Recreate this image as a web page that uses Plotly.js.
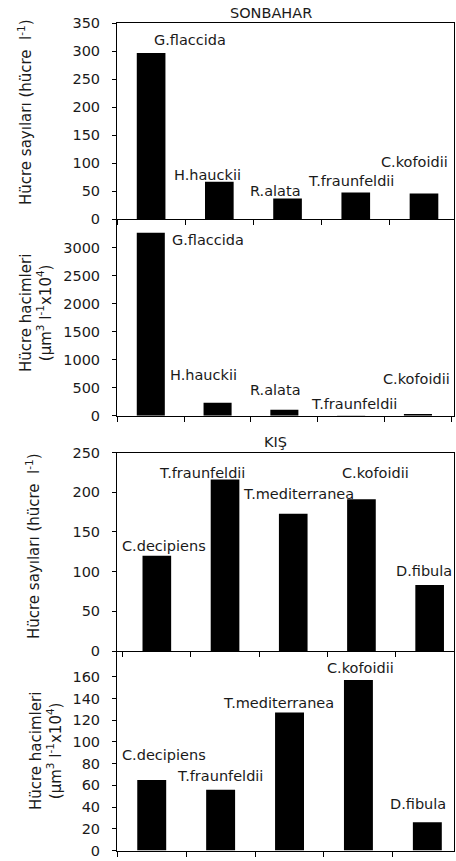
<!DOCTYPE html>
<html><head><meta charset="utf-8">
<script src="https://cdn.plot.ly/plotly-3.0.1.min.js"></script>
<style>html,body{margin:0;padding:0;background:#fff;}#chart{width:456px;height:861px;}</style>
</head><body><div id="chart"></div>
<script>
// ---- data ----
const autumnTitle = 'SONBAHAR';
const winterTitle = 'KIŞ';
const autumnSpecies = ['G.flaccida', 'H.hauckii', 'R.alata', 'T.fraunfeldii', 'C.kofoidii'];
const autumnCounts = [297, 67, 37, 48, 46];
const autumnVolumes = [3268, 232, 107, 5, 30];
const winterSpecies = ['C.decipiens', 'T.fraunfeldii', 'T.mediterranea', 'C.kofoidii', 'D.fibula'];
const winterCounts = [120, 216, 173, 191, 83];
const winterVolumes = [65, 56, 127, 157, 26];
const countTitle = 'Hücre sayıları (hücre  l<sup>-1</sup>)';
const volumeTitle = 'Hücre hacimleri<br>(µm<sup>3</sup> l<sup>-1</sup>x10<sup>4</sup>)';
const ticksP1 = [0, 50, 100, 150, 200, 250, 300, 350];
const ticksP2 = [0, 500, 1000, 1500, 2000, 2500, 3000];
const ticksP3 = [0, 50, 100, 150, 200, 250];
const ticksP4 = [0, 20, 40, 60, 80, 100, 120, 140, 160];

// ---- layout helpers (positions / styles) ----
const W = 456, H = 861;
const px = v => v / W;
const py = v => 1 - v / H;
const FONT = 'DejaVu Sans, Liberation Sans, Arial, sans-serif';
const TXT = '#1a1a1a';
const FS = 14.5;

// label offsets [xshift, yshift] in px relative to bar centre / bar top
const shiftP1 = [[39, 13], [-12, 7], [-12, 8], [-5, 11], [-9, 32]];
const shiftP2 = [[57, -7], [-14, 28], [-9, 20], [3, 11], [-1, 35]];
const shiftP3 = [[7, 10], [-23, 7], [5, 20], [14, 26], [-6, 14]];
const shiftP4 = [[12, 25], [-1, 14], [-11, 10], [2, 12], [-9, 18]];

const panels = [
  {cats: autumnSpecies, vals: autumnCounts, ticks: ticksP1, range: [0, 350], xr: [-0.5, 4.44], top: 23.3, bot: 219.3, shifts: shiftP1, topLine: true},
  {cats: autumnSpecies, vals: autumnVolumes, ticks: ticksP2, range: [0, 3507], xr: [-0.506, 4.54], top: 219.3, bot: 415.7, shifts: shiftP2, topLine: false},
  {cats: winterSpecies, vals: winterCounts, ticks: ticksP3, range: [0, 250], xr: [-0.584, 4.357], top: 452.5, bot: 651, shifts: shiftP3, topLine: true},
  {cats: winterSpecies, vals: winterVolumes, ticks: ticksP4, range: [0, 183.7], xr: [-0.504, 4.387], top: 651, bot: 850.5, shifts: shiftP4, topLine: false}
];

const traces = [];
const layout = {
  width: W, height: H,
  margin: {l: 0, r: 0, t: 0, b: 0},
  paper_bgcolor: '#fff', plot_bgcolor: '#fff',
  showlegend: false,
  font: {family: FONT, size: FS, color: TXT},
  annotations: []
};

panels.forEach((p, i) => {
  const n = i === 0 ? '' : String(i + 1);
  traces.push({
    type: 'bar', x: p.cats, y: p.vals,
    xaxis: 'x' + n, yaxis: 'y' + n,
    width: 0.42,
    marker: {color: '#000', line: {width: 0}},
    hoverinfo: 'skip'
  });
  layout['xaxis' + n] = {
    domain: [px(117), px(454)],
    anchor: 'y' + n,
    type: 'category',
    range: p.xr,
    tickson: 'boundaries',
    ticks: 'outside', ticklen: 5, tickwidth: 1, tickcolor: '#000',
    showticklabels: false,
    showgrid: false, zeroline: false,
    showline: true, linecolor: '#000', linewidth: 1,
    mirror: p.topLine,
    fixedrange: true
  };
  layout['yaxis' + n] = {
    domain: [py(p.bot), py(p.top)],
    anchor: 'x' + n,
    range: p.range,
    tickmode: 'array', tickvals: p.ticks,
    ticks: 'outside', ticklen: 4, tickwidth: 1, tickcolor: '#000',
    ticklabelstandoff: 9,
    tickfont: {family: FONT, size: FS, color: TXT},
    showgrid: false, zeroline: false,
    showline: true, linecolor: '#000', linewidth: 1,
    mirror: true,
    fixedrange: true
  };
  p.cats.forEach((c, k) => {
    layout.annotations.push({
      xref: 'x' + n, yref: 'y' + n,
      x: c, y: p.vals[k],
      text: c, showarrow: false,
      xanchor: 'center', yanchor: 'middle',
      xshift: p.shifts[k][0], yshift: p.shifts[k][1],
      font: {family: FONT, size: FS, color: TXT}
    });
  });
});

// titles
layout.annotations.push(
  {xref: 'paper', yref: 'paper', x: px(271), y: py(13.5), text: autumnTitle, showarrow: false,
   xanchor: 'center', yanchor: 'middle', font: {family: FONT, size: FS, color: TXT}},
  {xref: 'paper', yref: 'paper', x: px(275), y: py(441.5), text: winterTitle, showarrow: false,
   xanchor: 'center', yanchor: 'middle', font: {family: FONT, size: FS, color: TXT}}
);
// y axis titles
const yTitles = [
  {text: countTitle, x: 25, y: 112},
  {text: volumeTitle, x: 36, y: 313},
  {text: countTitle, x: 33, y: 546},
  {text: volumeTitle, x: 46, y: 751}
];
yTitles.forEach(t => layout.annotations.push({
  xref: 'paper', yref: 'paper', x: px(t.x), y: py(t.y), text: t.text, showarrow: false,
  textangle: -90, xanchor: 'center', yanchor: 'middle',
  font: {family: FONT, size: 15, color: TXT}
}));

Plotly.newPlot('chart', traces, layout, {displayModeBar: false, staticPlot: true});
</script>
</body></html>
